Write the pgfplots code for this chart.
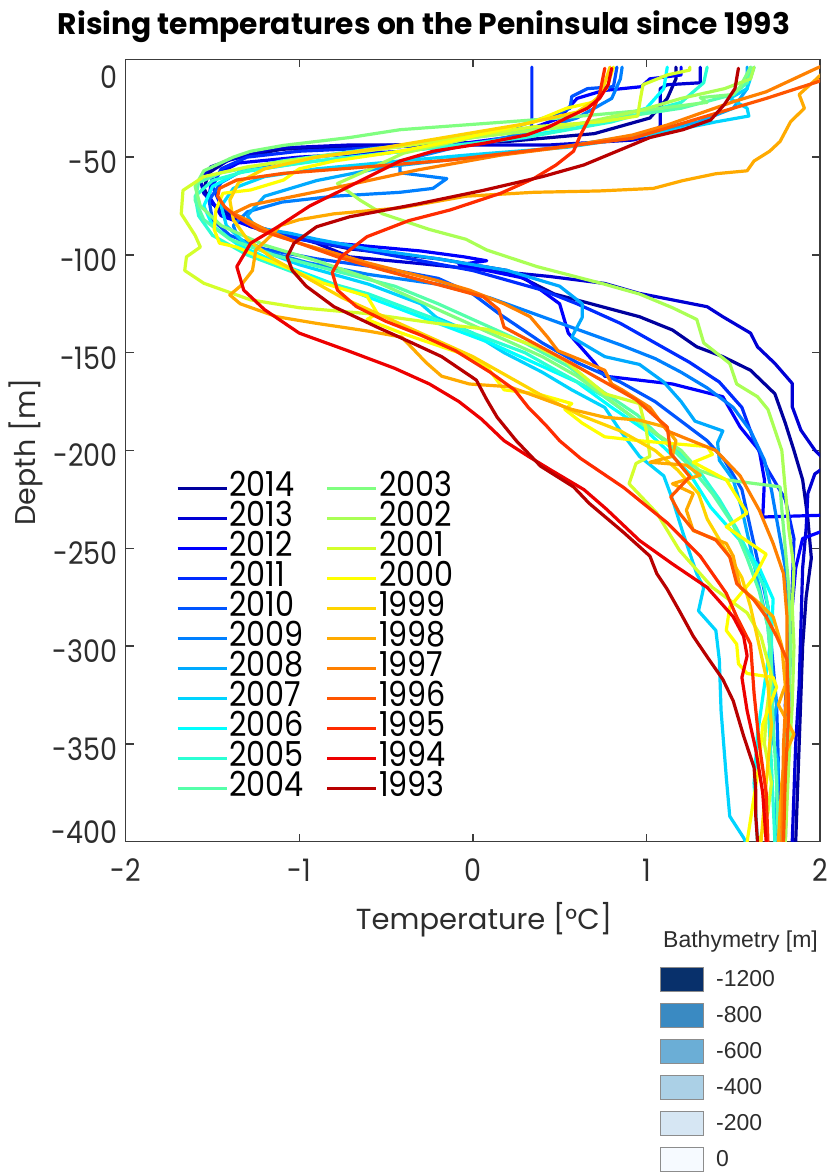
\documentclass[border=0pt]{standalone}
\usepackage{fontspec}
\setmainfont{Poppins}
\newfontfamily\helv{Liberation Sans}
\usepackage{pgfplots}
\pgfplotsset{compat=1.18}
\usepackage{graphicx}
\definecolor{c2014}{rgb}{0,0,0.62}
\definecolor{c2013}{rgb}{0,0,0.833}
\definecolor{c2012}{rgb}{0,0,1}
\definecolor{c2011}{rgb}{0,0.167,1}
\definecolor{c2010}{rgb}{0,0.333,1}
\definecolor{c2009}{rgb}{0,0.5,1}
\definecolor{c2008}{rgb}{0,0.667,1}
\definecolor{c2007}{rgb}{0,0.833,1}
\definecolor{c2006}{rgb}{0,1,1}
\definecolor{c2005}{rgb}{0.167,1,0.833}
\definecolor{c2004}{rgb}{0.333,1,0.667}
\definecolor{c2003}{rgb}{0.5,1,0.5}
\definecolor{c2002}{rgb}{0.667,1,0.333}
\definecolor{c2001}{rgb}{0.833,1,0.167}
\definecolor{c2000}{rgb}{1,1,0}
\definecolor{c1999}{rgb}{1,0.833,0}
\definecolor{c1998}{rgb}{1,0.667,0}
\definecolor{c1997}{rgb}{1,0.5,0}
\definecolor{c1996}{rgb}{1,0.333,0}
\definecolor{c1995}{rgb}{1,0.167,0}
\definecolor{c1994}{rgb}{0.93,0,0}
\definecolor{c1993}{rgb}{0.72,0,0}
\definecolor{bA}{RGB}{8,48,107}
\definecolor{bB}{RGB}{58,138,194}
\definecolor{bC}{RGB}{107,174,214}
\definecolor{bD}{RGB}{171,208,230}
\definecolor{bE}{RGB}{214,230,243}
\definecolor{bF}{RGB}{246,250,255}
\definecolor{axgray}{RGB}{60,60,60}
\definecolor{txgray}{RGB}{45,45,45}
\newcommand{\tkl}[1]{\scalebox{0.87}[1]{#1}}
\newcommand{\lgt}[1]{\scalebox{0.88}[1]{#1}}
\begin{document}
\begin{tikzpicture}[x=1pt,y=1pt]
\path[use as bounding box] (0,0) rectangle (833,-1174);
\begin{axis}[
  at={(125.7pt,-841.7pt)}, anchor=south west,
  width=694.3pt, height=782.4pt, scale only axis,
  xmin=-2, xmax=2, ymin=-400, ymax=0,
  xtick={-2,-1,0,1,2},
  xticklabels={\tkl{-2},\tkl{-1},\tkl{0},\tkl{1},\tkl{2}},
  ytick={-400,-350,-300,-250,-200,-150,-100,-50,0},
  yticklabels={\raisebox{3pt}[0pt][0pt]{\tkl{-400}},\tkl{-350},\tkl{-300},\tkl{-250},\tkl{-200},\tkl{-150},\tkl{-100},\tkl{-50},\raisebox{-24pt}[0pt][0pt]{\tkl{0}}},
  tick align=inside, major tick length=8pt,
  tick style={line width=1.3pt, draw=axgray},
  axis line style={line width=1.3pt, draw=axgray},
  tick label style={font=\fontsize{31}{31}\selectfont, text=txgray},
  xticklabel style={inner sep=0pt, anchor=north, yshift=-17pt},
  yticklabel style={inner sep=0pt, anchor=east, xshift=-8pt, yshift=-5pt},
  every axis plot/.append style={line width=3.2pt, line join=round, line cap=round, no markers},
  legend cell align=left,
  legend style={at={(0.0724,0.4716)}, anchor=north west, draw=none, fill=none,
    inner sep=0pt, outer sep=0pt, legend columns=2, row sep=1pt,
    nodes={inner sep=0pt, text height=24pt, text depth=5pt, font=\fontsize{34.4}{34.4}\selectfont},
    /tikz/every odd column/.append style={column sep=1pt},
    /tikz/every even column/.append style={column sep=22pt}},
  legend image code/.code={\draw[#1, line width=3.2pt, line cap=butt] (0pt,-1pt) -- (49pt,-1pt);},
]
% 2014
\addplot[c2014, forget plot] coordinates {(1.17,-4) (1.17,-10) (1.12,-20) (1.02,-30) (0.70,-38) (0.20,-42) (-0.50,-44) (-1.10,-46) (-1.40,-51) (-1.52,-58) (-1.55,-66) (-1.50,-74) (-1.35,-82) (-1.10,-90) (-0.70,-97) (-0.20,-102) (0.20,-108) (0.47,-120) (0.96,-131.6) (1.15,-138.4) (1.29,-147) (1.44,-152) (1.60,-159) (1.74,-171) (1.80,-186) (1.85,-200) (1.90,-215) (1.93,-235) (1.95,-255) (1.92,-275) (1.90,-300) (1.89,-325) (1.88,-350) (1.87,-375) (1.86,-400)};
% 2013
\addplot[c2013, forget plot] coordinates {(1.31,-4) (1.31,-12) (1.12,-13) (1.08,-15) (1.08,-34) (1.04,-38.7) (0.92,-41.3) (0.44,-43.8) (-0.13,-43.8) (-0.71,-43.8) (-1.15,-45.5) (-1.40,-51.5) (-1.51,-55) (-1.57,-61.7) (-1.55,-68.5) (-1.48,-75.4) (-1.40,-80.5) (-1.28,-85.6) (-1.09,-89) (-0.90,-94) (-0.71,-101) (-0.32,-104.3) (0.06,-107.7) (0.44,-111) (0.76,-114.6) (0.96,-119.7) (1.15,-123) (1.35,-126.5) (1.44,-131.6) (1.60,-140) (1.64,-147) (1.74,-155.5) (1.84,-165.7) (1.84,-177.6) (1.89,-189.6) (1.97,-199.8) (2.05,-207) (1.97,-212) (1.93,-222) (1.92,-240) (1.90,-260) (1.89,-290) (1.88,-320) (1.86,-350) (1.85,-375) (1.84,-400)};
% 2012
\addplot[c2012, forget plot] coordinates {(1.20,-4) (1.20,-8) (1.02,-10) (0.97,-14) (0.75,-16) (0.60,-20) (0.50,-30) (0.20,-40) (-0.40,-47) (-1.00,-50) (-1.35,-53) (-1.50,-60) (-1.52,-70) (-1.45,-80) (-1.20,-88) (-0.80,-94) (-0.30,-98) (-0.05,-101) (0.08,-103) (-0.08,-105) (0.30,-112) (0.50,-125) (0.55,-140) (0.70,-155) (0.76,-162) (1.15,-166) (1.44,-172.5) (1.54,-188) (1.65,-200) (1.68,-215) (1.67,-234) (2.05,-233) (2.05,-240) (1.90,-245) (1.86,-260) (1.83,-290) (1.82,-320) (1.80,-350) (1.80,-380) (1.79,-400)};
% 2011
\addplot[c2011, forget plot] coordinates {(0.34,-4) (0.34,-32) (0.33,-40) (0.00,-43) (-0.50,-45) (-1.00,-47) (-1.30,-50) (-1.45,-56) (-1.50,-65) (-1.45,-75) (-1.30,-84) (-1.00,-92) (-0.60,-98) (-0.30,-103) (0.00,-108) (0.20,-113) (0.40,-118) (0.60,-125) (0.85,-135) (1.05,-145) (1.25,-155) (1.42,-165) (1.55,-178) (1.62,-195) (1.70,-210) (1.80,-225) (1.85,-245) (1.84,-270) (1.82,-300) (1.80,-330) (1.81,-360) (1.80,-400)};
% 2010
\addplot[c2010, forget plot] coordinates {(0.83,-4) (0.81,-14) (0.66,-15) (0.57,-19) (0.56,-25) (0.48,-28) (0.16,-37) (-0.23,-42) (-0.70,-48) (-1.10,-52) (-1.35,-58) (-1.45,-63) (-1.52,-72) (-1.50,-82) (-1.40,-90) (-1.20,-97) (-0.90,-102) (-0.50,-107) (-0.20,-112) (0.00,-120) (0.15,-130) (0.40,-145) (0.60,-155) (0.85,-165) (1.05,-175) (1.20,-185) (1.35,-195) (1.45,-205) (1.55,-220) (1.60,-240) (1.65,-260) (1.70,-280) (1.72,-300) (1.75,-330) (1.76,-360) (1.76,-400)};
% 2009
\addplot[c2009, forget plot] coordinates {(0.86,-4) (0.85,-10) (0.80,-20) (0.60,-30) (0.30,-38) (-0.10,-45) (-0.42,-52) (-0.42,-58) (-0.15,-61) (-0.23,-66) (-0.42,-68) (-0.80,-70) (-1.10,-73) (-1.30,-78) (-1.38,-85) (-1.35,-92) (-1.20,-98) (-0.95,-104) (-0.60,-110) (-0.20,-115) (0.10,-122) (0.35,-130) (0.60,-138) (0.85,-146) (1.05,-153) (1.20,-160) (1.35,-168) (1.50,-178) (1.60,-190) (1.68,-205) (1.72,-220) (1.76,-240) (1.80,-260) (1.82,-280) (1.83,-300) (1.82,-330) (1.80,-360) (1.78,-400)};
% 2008
\addplot[c2008, forget plot] coordinates {(1.58,-4) (1.58,-15) (1.50,-25) (1.30,-32) (1.00,-38) (0.50,-45) (0.00,-50) (-0.50,-55) (-0.90,-62) (-1.20,-70) (-1.30,-80) (-1.25,-86) (-1.05,-89) (-0.90,-92) (-0.60,-97) (-0.20,-102) (0.20,-108) (0.50,-116) (0.63,-125) (0.63,-132) (0.57,-142) (0.76,-152) (0.96,-156) (1.10,-165) (1.20,-175) (1.28,-185) (1.44,-190) (1.41,-196) (1.42,-205) (1.50,-215) (1.55,-230) (1.60,-250) (1.65,-270) (1.70,-290) (1.72,-310) (1.75,-330) (1.72,-345) (1.76,-360) (1.74,-400)};
% 2007
\addplot[c2007, forget plot] coordinates {(1.62,-4) (1.58,-15) (1.48,-20) (1.58,-25) (1.59,-29) (1.40,-32) (1.12,-37) (0.92,-40) (0.54,-45) (-0.04,-49) (-0.42,-52) (-0.90,-56) (-1.20,-60) (-1.38,-66) (-1.45,-75) (-1.42,-85) (-1.30,-95) (-1.00,-105) (-0.60,-115) (-0.30,-125) (-0.21,-132) (0.00,-140) (0.18,-150) (0.40,-160) (0.57,-169) (0.76,-178) (0.85,-190) (0.96,-203) (1.10,-213) (1.15,-225) (1.21,-242) (1.29,-263) (1.33,-270) (1.30,-282) (1.40,-292) (1.42,-307) (1.43,-333) (1.46,-367) (1.48,-387) (1.56,-398) (1.57,-400)};
% 2006
\addplot[c2006, forget plot] coordinates {(1.12,-4) (1.10,-15) (1.00,-25) (0.60,-35) (0.10,-42) (-0.50,-48) (-1.00,-53) (-1.35,-58) (-1.50,-65) (-1.55,-75) (-1.50,-85) (-1.35,-95) (-1.10,-105) (-0.80,-115) (-0.50,-125) (-0.20,-135) (0.10,-145) (0.35,-155) (0.60,-165) (0.80,-178) (1.00,-190) (1.12,-200) (1.25,-212) (1.37,-229) (1.54,-246) (1.65,-260) (1.73,-276) (1.72,-295) (1.68,-320) (1.64,-345) (1.62,-370) (1.64,-400)};
% 2005
\addplot[c2005, forget plot] coordinates {(1.35,-4) (1.33,-12) (1.20,-22) (0.80,-32) (0.30,-40) (-0.30,-46) (-0.90,-52) (-1.30,-57) (-1.50,-62) (-1.60,-70) (-1.58,-80) (-1.50,-90) (-1.30,-100) (-1.00,-110) (-0.60,-120) (-0.30,-130) (0.00,-140) (0.30,-150) (0.50,-160) (0.75,-172) (0.95,-185) (1.15,-198) (1.30,-210) (1.42,-225) (1.52,-240) (1.60,-255) (1.68,-270) (1.72,-290) (1.72,-310) (1.70,-330) (1.72,-360) (1.74,-400)};
% 2004
\addplot[c2004, forget plot] coordinates {(1.60,-4) (1.58,-12) (1.50,-18) (1.20,-25) (0.60,-33) (0.00,-40) (-0.60,-46) (-1.10,-52) (-1.45,-58) (-1.58,-63) (-1.60,-72) (-1.55,-82) (-1.40,-92) (-1.15,-100) (-0.80,-108) (-0.45,-116) (-0.20,-125) (0.05,-135) (0.30,-145) (0.55,-157) (0.75,-170) (0.95,-182) (1.10,-195) (1.25,-208) (1.38,-222) (1.50,-238) (1.58,-255) (1.65,-272) (1.70,-290) (1.72,-310) (1.73,-340) (1.75,-370) (1.76,-400)};
% 2003
\addplot[c2003, forget plot] coordinates {(1.60,-4) (1.54,-14) (1.50,-18) (1.31,-19.6) (1.35,-22) (1.00,-26) (0.50,-30) (-0.42,-36) (-0.71,-40) (-1.09,-44) (-1.28,-47) (-1.38,-50) (-1.55,-57) (-1.60,-65) (-1.57,-75) (-1.45,-85) (-1.20,-95) (-0.90,-103) (-0.60,-112) (-0.35,-122) (-0.10,-132) (0.15,-142) (0.40,-152) (0.60,-162) (0.80,-175) (1.00,-188) (1.20,-200) (1.30,-210) (1.46,-215) (1.77,-218.6) (1.78,-230) (1.80,-250) (1.82,-270) (1.83,-300) (1.82,-330) (1.80,-360) (1.78,-400)};
% 2002
\addplot[c2002, forget plot] coordinates {(1.62,-4) (1.60,-10) (1.45,-15) (1.20,-20) (0.97,-26) (0.54,-34.5) (0.00,-40) (-0.40,-48) (-0.64,-58) (-0.78,-63.5) (-0.65,-72) (-0.52,-79) (-0.25,-87) (-0.04,-92) (0.08,-97.5) (0.37,-106) (0.76,-115) (0.96,-120) (1.15,-127) (1.29,-133) (1.33,-145) (1.48,-155.5) (1.52,-166) (1.64,-172.5) (1.70,-179) (1.78,-200) (1.80,-220) (1.82,-240) (1.85,-260) (1.84,-280) (1.85,-300) (1.84,-330) (1.82,-360) (1.80,-400)};
% 2001
\addplot[c2001, forget plot] coordinates {(1.25,-4) (1.25,-5.5) (1.12,-8) (0.98,-13) (0.96,-23) (0.95,-29) (0.73,-32) (0.35,-34.5) (-0.04,-39.6) (-0.42,-44.7) (-0.90,-50) (-1.30,-55) (-1.55,-60) (-1.67,-67) (-1.68,-79) (-1.60,-90) (-1.57,-96) (-1.65,-101) (-1.66,-108) (-1.55,-114.5) (-1.28,-123) (-1.00,-127) (-0.61,-130) (-0.21,-135) (0.08,-138) (0.37,-147) (0.53,-154) (0.76,-171) (0.96,-176) (1.00,-190) (1.02,-203) (0.94,-206.6) (0.90,-217) (1.06,-232) (1.19,-251) (1.38,-270) (1.58,-283) (1.66,-295) (1.72,-315) (1.69,-335) (1.68,-350) (1.72,-370) (1.70,-385) (1.65,-400)};
% 2000
\addplot[c2000, forget plot] coordinates {(0.81,-4) (0.77,-15) (0.69,-22) (0.54,-25) (0.35,-32) (0.16,-36) (-0.13,-42) (-0.42,-47) (-0.80,-52) (-1.00,-56) (-1.09,-61.7) (-1.28,-66.8) (-1.44,-68.5) (-1.48,-77) (-1.49,-87) (-1.46,-94) (-1.36,-96) (-1.23,-101) (-1.03,-108) (-0.86,-114.5) (-0.61,-121) (-0.55,-130) (-0.61,-133) (-0.41,-140) (-0.08,-150) (0.08,-157) (0.18,-169) (0.37,-171) (0.57,-176) (0.53,-179) (0.63,-186) (0.76,-193) (0.96,-195) (1.35,-198) (1.38,-202) (1.27,-206) (1.46,-215) (1.58,-232) (1.46,-239) (1.69,-253) (1.62,-265) (1.48,-280) (1.46,-292) (1.52,-299) (1.53,-309) (1.58,-314) (1.73,-316) (1.75,-321) (1.67,-340) (1.65,-360) (1.62,-377) (1.58,-400)};
% 1999
\addplot[c1999, forget plot] coordinates {(0.79,-4) (0.76,-12) (0.72,-20) (0.60,-27) (0.30,-33) (-0.10,-39) (-0.50,-45) (-0.90,-50) (-1.20,-56) (-1.35,-63) (-1.40,-72) (-1.38,-82) (-1.30,-92) (-1.15,-102) (-0.95,-112) (-0.75,-122) (-0.50,-132) (-0.25,-142) (0.00,-152) (0.20,-162) (0.40,-172) (0.62,-182) (0.85,-190) (1.05,-200) (1.18,-210) (1.30,-222) (1.35,-235) (1.45,-250) (1.55,-265) (1.60,-280) (1.65,-300) (1.70,-320) (1.72,-340) (1.70,-360) (1.68,-380) (1.66,-400)};
% 1998
\addplot[c1998, forget plot] coordinates {(2.05,-4) (1.98,-10) (1.88,-18) (1.91,-25) (1.83,-32) (1.77,-42) (1.71,-47) (1.62,-52) (1.58,-57) (1.40,-58.5) (1.21,-62) (1.04,-66) (0.73,-67.3) (0.35,-68) (-0.04,-70) (-0.42,-76) (-0.80,-79) (-1.00,-82) (-1.11,-85) (-1.15,-89) (-1.25,-97.5) (-1.27,-108) (-1.34,-116) (-1.40,-120.5) (-1.34,-125) (-1.13,-131.6) (-0.90,-135) (-0.60,-139) (-0.41,-142) (-0.27,-155) (-0.18,-162) (-0.02,-166) (0.21,-167.4) (0.37,-172.5) (0.57,-179) (0.76,-183) (0.96,-184.5) (1.11,-188) (1.17,-195) (1.15,-203) (1.02,-206) (1.23,-207.5) (1.31,-212.6) (1.15,-217) (1.27,-222) (1.23,-230.5) (1.27,-241) (1.46,-247.5) (1.50,-254) (1.54,-270) (1.63,-276.5) (1.73,-285) (1.78,-300) (1.80,-320) (1.76,-330) (1.85,-345) (1.80,-355) (1.78,-370) (1.76,-400)};
% 1997
\addplot[c1997, forget plot] coordinates {(2.05,-2) (1.98,-4.6) (1.69,-16.6) (1.50,-21.7) (1.31,-27.6) (1.12,-33.6) (0.92,-38.7) (0.54,-44.7) (0.16,-49) (-0.32,-56.6) (-0.90,-67.7) (-1.28,-74.5) (-1.38,-78.8) (-1.30,-82.2) (-1.19,-87.3) (-1.00,-94) (-0.80,-99) (-0.61,-104) (-0.21,-113) (-0.02,-118) (0.18,-125) (0.33,-131.6) (0.43,-142) (0.49,-149) (0.63,-154) (0.76,-159) (0.80,-166) (0.86,-169) (1.02,-178) (1.12,-190) (1.40,-200) (1.54,-213) (1.65,-230.5) (1.73,-247.5) (1.79,-263) (1.81,-285) (1.81,-316) (1.79,-350) (1.78,-400)};
% 1996
\addplot[c1996, forget plot] coordinates {(2.05,-8) (1.99,-11.4) (1.69,-20) (1.31,-30) (0.92,-40.4) (0.44,-45.5) (-0.13,-51.5) (-0.71,-55.7) (-1.09,-58.3) (-1.36,-61.7) (-1.46,-66) (-1.47,-70) (-1.43,-75.4) (-1.36,-80.5) (-1.23,-87.3) (-1.00,-94) (-0.78,-101) (-0.52,-107.7) (-0.23,-114.5) (0.06,-121.4) (0.15,-128) (0.18,-137) (0.57,-155.5) (0.94,-174) (1.12,-188) (1.14,-201.5) (1.25,-213.4) (1.14,-223.7) (1.19,-232) (1.27,-240.7) (1.40,-245.8) (1.48,-254.4) (1.52,-268) (1.62,-276.5) (1.69,-285) (1.75,-295) (1.81,-307) (1.82,-333) (1.80,-367) (1.79,-400)};
% 1995
\addplot[c1995, forget plot] coordinates {(0.76,-4.6) (0.73,-18) (0.68,-28.5) (0.62,-38.7) (0.58,-47) (0.48,-54) (0.35,-61) (0.16,-68.5) (-0.13,-77) (-0.37,-82.5) (-0.61,-90.7) (-0.76,-101) (-0.81,-109) (-0.78,-118) (-0.67,-126.5) (-0.50,-134) (-0.30,-141) (-0.10,-149) (0.10,-160) (0.24,-169) (0.32,-178) (0.42,-187) (0.50,-195) (0.62,-204) (0.87,-219) (1.12,-237) (1.31,-254) (1.46,-273) (1.52,-285) (1.60,-299) (1.62,-324) (1.65,-350) (1.69,-375) (1.70,-400)};
% 1994
\addplot[c1994, forget plot] coordinates {(0.80,-4.6) (0.78,-13) (0.73,-20) (0.66,-25) (0.54,-30) (0.44,-34.5) (0.31,-38.7) (0.06,-43) (-0.23,-47) (-0.42,-52) (-0.60,-60) (-0.78,-68) (-0.94,-75) (-1.13,-86) (-1.28,-94) (-1.36,-106) (-1.32,-118) (-1.20,-128) (-1.00,-140) (-0.72,-149) (-0.45,-158) (-0.25,-166) (-0.08,-175) (0.05,-184) (0.18,-195) (0.32,-203) (0.45,-210) (0.64,-220) (0.77,-230) (0.96,-246) (1.15,-258) (1.35,-270) (1.50,-285) (1.56,-295) (1.58,-305) (1.55,-316) (1.58,-333) (1.63,-353) (1.67,-375) (1.69,-400)};
% 1993
\addplot[c1993, forget plot] coordinates {(1.53,-4.6) (1.51,-15) (1.45,-23) (1.37,-31) (1.21,-36) (1.02,-40) (0.83,-47) (0.64,-54) (0.40,-60) (0.06,-67) (-0.32,-74) (-0.71,-80.5) (-0.90,-85.6) (-1.03,-94) (-1.07,-101) (-1.04,-108) (-0.96,-116) (-0.80,-126.5) (-0.55,-137) (-0.35,-145) (-0.18,-152) (0.02,-164) (0.08,-174) (0.14,-183) (0.25,-195) (0.39,-208) (0.58,-218.6) (0.67,-227) (0.87,-242) (1.02,-254) (1.06,-263) (1.12,-271) (1.19,-282) (1.27,-295) (1.35,-305.5) (1.44,-317) (1.50,-328) (1.56,-346) (1.62,-362) (1.63,-374) (1.63,-387) (1.64,-400)};
% legend (column-wise order via interleaving)
\addlegendimage{c2014}\addlegendentry{\lgt{2014}}
\addlegendimage{c2003}\addlegendentry{\lgt{2003}}
\addlegendimage{c2013}\addlegendentry{\lgt{2013}}
\addlegendimage{c2002}\addlegendentry{\lgt{2002}}
\addlegendimage{c2012}\addlegendentry{\lgt{2012}}
\addlegendimage{c2001}\addlegendentry{\lgt{2001}}
\addlegendimage{c2011}\addlegendentry{\lgt{2011}}
\addlegendimage{c2000}\addlegendentry{\lgt{2000}}
\addlegendimage{c2010}\addlegendentry{\lgt{2010}}
\addlegendimage{c1999}\addlegendentry{\lgt{1999}}
\addlegendimage{c2009}\addlegendentry{\lgt{2009}}
\addlegendimage{c1998}\addlegendentry{\lgt{1998}}
\addlegendimage{c2008}\addlegendentry{\lgt{2008}}
\addlegendimage{c1997}\addlegendentry{\lgt{1997}}
\addlegendimage{c2007}\addlegendentry{\lgt{2007}}
\addlegendimage{c1996}\addlegendentry{\lgt{1996}}
\addlegendimage{c2006}\addlegendentry{\lgt{2006}}
\addlegendimage{c1995}\addlegendentry{\lgt{1995}}
\addlegendimage{c2005}\addlegendentry{\lgt{2005}}
\addlegendimage{c1994}\addlegendentry{\lgt{1994}}
\addlegendimage{c2004}\addlegendentry{\lgt{2004}}
\addlegendimage{c1993}\addlegendentry{\lgt{1993}}
\end{axis}
% title and axis labels
\node[anchor=base, inner sep=0pt] at (424,-34.3) {\resizebox{732pt}{!}{\fontsize{30}{30}\selectfont\bfseries Rising temperatures on the Peninsula since 1993}};
\node[anchor=base, inner sep=0pt, text=txgray] at (484,-929.5) {\resizebox{256pt}{!}{\fontsize{30}{30}\selectfont Temperature [°C]}};
\node[anchor=base, rotate=90, inner sep=0pt, text=txgray] at (35,-451.7) {\resizebox{147pt}{!}{\fontsize{30}{30}\selectfont Depth [m]}};
% bathymetry key
\node[anchor=base west, inner sep=0pt, text=txgray] at (663,-947) {\helv\fontsize{23}{23}\selectfont Bathymetry [m]};
\foreach \i/\c/\l in {0/bA/-1200,1/bB/-800,2/bC/-600,3/bD/-400,4/bE/-200,5/bF/0} {
  \draw[draw=black!45, line width=1pt, fill=\c] (660.7,{-967-36*\i}) rectangle (703.3,{-991-36*\i});
  \node[anchor=west, inner sep=0pt, text=txgray] at (716,{-979-36*\i}) {\helv\fontsize{23}{23}\selectfont \l};
}
\end{tikzpicture}
\end{document}
